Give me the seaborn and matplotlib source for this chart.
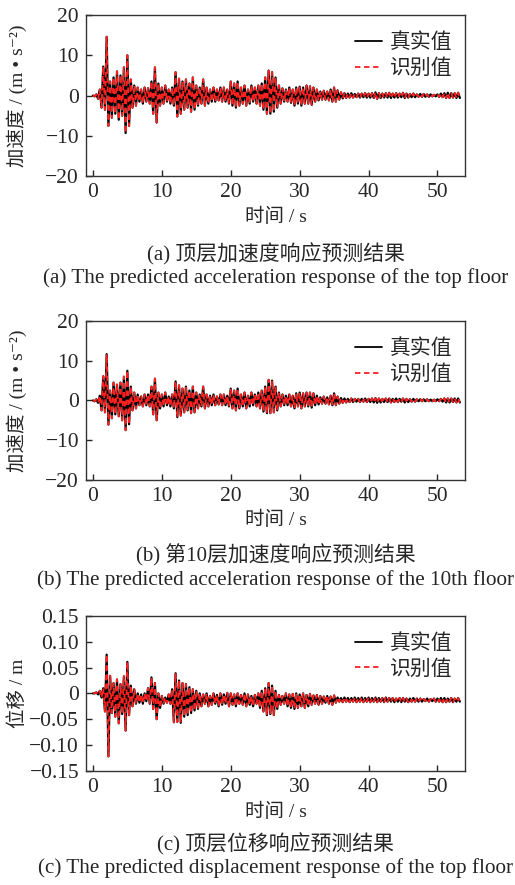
import numpy as np
import pandas as pd
import matplotlib
matplotlib.use("Agg")
import matplotlib.pyplot as plt
import seaborn as sns

# ================= DATA =================
# extrema of each record, one peak and one trough per 0.5 s cycle
cycle = 0.5

acc_top_peak = [
    0.0, 0.3, 1.5, 7.2, 14.6, 3.5, 4.5, 6.0, 5.0, 7.0,
    10.0, 4.0, 2.5, 2.0, 1.5, 2.0, 1.8, 3.5, 7.0, 3.0,
    2.0, 2.5, 1.5, 2.0, 5.8, 4.2, 3.5, 4.0, 3.0, 4.5,
    2.5, 2.0, 4.0, 2.0, 1.5, 2.0, 1.5, 2.0, 2.0, 1.5,
    3.5, 3.0, 3.5, 2.0, 2.5, 1.5, 2.5, 2.0, 2.5, 3.0,
    4.5, 6.2, 5.8, 4.5, 2.5, 1.8, 1.5, 2.0, 1.5, 2.0,
    2.2, 2.0, 2.5, 2.3, 2.0, 1.5, 1.0, 1.2, 1.0, 1.5,
    2.0, 1.3, 0.8, 0.6, 0.5, 0.6, 0.4, 0.5, 0.5, 0.6,
    0.5, 0.6, 0.8, 0.6, 0.5, 0.6, 0.7, 0.5, 0.6, 0.5,
    0.7, 0.5, 0.4, 0.5, 0.3, 0.4, 0.4, 0.3, 0.3, 0.2,
    0.3, 0.5, 0.6, 0.7, 0.6, 0.6, 0.7,
]
acc_top_trough = [
    -0.2, -0.8, -3.0, -3.5, -7.5, -5.5, -4.5, -6.0, -5.0, -9.3,
    -7.5, -3.0, -2.5, -1.5, -2.0, -1.5, -2.0, -4.5, -6.7, -2.5,
    -2.0, -1.5, -2.0, -2.5, -5.2, -4.5, -3.5, -3.0, -4.0, -3.5,
    -2.5, -2.0, -2.5, -2.0, -1.5, -1.5, -1.2, -1.5, -1.5, -2.0,
    -2.5, -3.0, -2.5, -2.0, -2.5, -2.0, -1.5, -2.0, -2.5, -3.5,
    -4.5, -4.5, -4.0, -3.0, -2.0, -1.5, -1.5, -1.8, -2.5, -2.0,
    -2.5, -2.0, -2.0, -2.3, -1.5, -1.2, -1.0, -1.0, -1.2, -1.5,
    -1.5, -1.0, -0.7, -0.6, -0.5, -0.5, -0.4, -0.5, -0.4, -0.5,
    -0.5, -0.6, -0.8, -0.6, -0.5, -0.5, -0.6, -0.5, -0.5, -0.4,
    -0.6, -0.5, -0.4, -0.4, -0.3, -0.3, -0.3, -0.3, -0.2, -0.2,
    -0.3, -0.4, -0.6, -0.6, -0.5, -0.6, -0.6,
]

acc_10_peak = [
    0.0, 0.3, 1.2, 6.1, 11.7, 2.5, 4.5, 4.0, 4.5, 6.0,
    7.5, 3.5, 2.0, 1.5, 1.0, 1.5, 1.5, 3.5, 5.5, 2.0,
    1.5, 2.0, 1.0, 1.5, 4.8, 3.8, 3.0, 3.5, 2.5, 3.5,
    2.0, 1.5, 3.5, 1.5, 1.2, 1.5, 1.0, 1.5, 1.5, 1.2,
    3.0, 2.5, 3.0, 1.5, 2.0, 1.2, 2.0, 1.5, 2.0, 2.5,
    3.5, 5.2, 5.0, 3.5, 2.0, 1.5, 1.2, 1.5, 1.2, 1.8,
    2.0, 1.8, 2.0, 2.0, 1.8, 1.2, 0.8, 1.0, 0.8, 1.2,
    1.8, 1.0, 0.6, 0.5, 0.4, 0.5, 0.4, 0.4, 0.4, 0.5,
    0.4, 0.5, 0.6, 0.5, 0.4, 0.5, 0.5, 0.4, 0.5, 0.4,
    0.5, 0.4, 0.3, 0.4, 0.3, 0.3, 0.3, 0.3, 0.2, 0.2,
    0.3, 0.4, 0.5, 0.5, 0.5, 0.5, 0.5,
]
acc_10_trough = [
    -0.2, -0.6, -2.5, -3.0, -6.1, -4.5, -3.5, -4.0, -5.0, -7.5,
    -6.0, -2.5, -2.0, -1.2, -1.5, -1.2, -1.5, -3.5, -5.0, -2.0,
    -1.5, -1.2, -1.5, -2.0, -4.2, -3.8, -3.0, -2.5, -3.2, -3.0,
    -2.0, -1.5, -2.0, -1.5, -1.2, -1.2, -1.0, -1.2, -1.2, -1.5,
    -2.0, -2.5, -2.0, -1.5, -2.0, -1.5, -1.2, -1.5, -2.0, -2.8,
    -3.2, -3.2, -3.0, -2.5, -1.5, -1.2, -1.2, -1.5, -2.0, -1.5,
    -2.0, -1.5, -1.5, -1.8, -1.2, -1.0, -0.8, -0.8, -1.0, -1.2,
    -1.2, -0.8, -0.6, -0.5, -0.4, -0.4, -0.3, -0.4, -0.3, -0.4,
    -0.4, -0.5, -0.6, -0.5, -0.4, -0.4, -0.5, -0.4, -0.4, -0.3,
    -0.5, -0.4, -0.3, -0.3, -0.2, -0.2, -0.2, -0.2, -0.2, -0.2,
    -0.2, -0.3, -0.5, -0.5, -0.4, -0.5, -0.5,
]

disp_top_peak = [
    0.000, 0.002, 0.005, 0.010, 0.075, 0.034, 0.020, 0.027, 0.018, 0.033,
    0.061, 0.015, 0.008, 0.000, -0.002, 0.000, 0.010, 0.031, 0.020, 0.000,
    -0.005, -0.008, -0.002, 0.008, 0.039, 0.025, 0.020, 0.018, 0.012, 0.008,
    0.005, 0.000, -0.002, 0.000, -0.005, 0.000, -0.003, 0.000, -0.002, 0.001,
    0.000, -0.002, 0.000, -0.003, 0.000, -0.002, -0.005, -0.003, 0.000, 0.005,
    0.010, 0.020, 0.015, 0.005, -0.003, -0.005, 0.000, -0.002, -0.001, 0.000,
    -0.002, 0.000, -0.003, -0.001, -0.004, -0.003, -0.005, -0.006, -0.005, -0.006,
    -0.004, -0.008, -0.009, -0.008, -0.009, -0.009, -0.008, -0.009, -0.008, -0.009,
    -0.008, -0.009, -0.008, -0.009, -0.009, -0.008, -0.009, -0.009, -0.010, -0.009,
    -0.009, -0.010, -0.010, -0.009, -0.010, -0.010, -0.011, -0.010, -0.011, -0.010,
    -0.010, -0.009, -0.009, -0.010, -0.009, -0.010, -0.009,
]
disp_top_trough = [
    0.000, -0.002, -0.008, -0.035, -0.122, -0.038, -0.045, -0.058, -0.040, -0.072,
    -0.042, -0.025, -0.020, -0.018, -0.020, -0.015, -0.020, -0.030, -0.050, -0.028,
    -0.020, -0.018, -0.020, -0.056, -0.055, -0.057, -0.045, -0.042, -0.038, -0.033,
    -0.030, -0.025, -0.020, -0.025, -0.022, -0.020, -0.025, -0.022, -0.020, -0.025,
    -0.022, -0.025, -0.020, -0.022, -0.025, -0.022, -0.025, -0.020, -0.028, -0.035,
    -0.042, -0.040, -0.042, -0.030, -0.022, -0.020, -0.025, -0.028, -0.030, -0.028,
    -0.025, -0.028, -0.025, -0.022, -0.020, -0.022, -0.020, -0.018, -0.020, -0.022,
    -0.018, -0.016, -0.017, -0.016, -0.017, -0.016, -0.017, -0.016, -0.017, -0.016,
    -0.017, -0.016, -0.017, -0.016, -0.017, -0.016, -0.016, -0.017, -0.016, -0.017,
    -0.016, -0.017, -0.016, -0.016, -0.016, -0.016, -0.015, -0.016, -0.015, -0.016,
    -0.016, -0.017, -0.017, -0.016, -0.017, -0.016, -0.016,
]

ylabels = ["加速度 / (m • s⁻²)", "加速度 / (m • s⁻²)", "位移 / m"]
yticks = [[-20, -10, 0, 10, 20], [-20, -10, 0, 10, 20],
          [-0.15, -0.10, -0.05, 0, 0.05, 0.10, 0.15]]
ytick_labels = [["−20", "−10", "0", "10", "20"], ["−20", "−10", "0", "10", "20"],
                ["−0.15", "−0.10", "−0.05", "0", "0.05", "0.10", "0.15"]]
xticks = [0, 10, 20, 30, 40, 50]
captions_zh = ["(a) 顶层加速度响应预测结果", "(b) 第10层加速度响应预测结果", "(c) 顶层位移响应预测结果"]
captions_en = ["(a) The predicted acceleration response of the top floor",
               "(b) The predicted acceleration response of the 10th floor",
               "(c) The predicted displacement response of the top floor"]


def build_record(peaks, troughs):
    t_peak = np.arange(len(peaks)) * cycle
    t_trough = t_peak + cycle / 2
    t = np.empty(2 * len(peaks))
    v = np.empty(2 * len(peaks))
    t[0::2], t[1::2] = t_peak, t_trough
    v[0::2], v[1::2] = peaks, troughs
    return pd.DataFrame({"t": t, "v": v})


records = [build_record(acc_top_peak, acc_top_trough),
           build_record(acc_10_peak, acc_10_trough),
           build_record(disp_top_peak, disp_top_trough)]

# ================= STYLE =================
sns.set_style("ticks")
plt.rcParams["font.family"] = ["Liberation Serif", "Noto Sans CJK SC", "DejaVu Sans"]
plt.rcParams["axes.unicode_minus"] = False

fig = plt.figure(figsize=(5.15, 8.85), dpi=100)
boxes = [(0.167, 0.801, 0.736, 0.182),
         (0.167, 0.458, 0.736, 0.179),
         (0.167, 0.129, 0.736, 0.175)]
caption_pts = [(-56, -73.5), (-54.5, -72), (-53, -70)]

for i, df in enumerate(records):
    ax = fig.add_axes(boxes[i])
    sns.lineplot(data=df, x="t", y="v", color="black", lw=1.6, label="真实值", ax=ax)
    # identified values lie on top of the true ones
    sns.lineplot(data=df, x="t", y="v", color="#ff2020", lw=1.3, linestyle=(0, (3, 2)),
                 label="识别值", ax=ax)

    ax.set_xlim(-1, 54)
    ax.set_ylim(yticks[i][0], yticks[i][-1])
    ax.set_xticks(xticks)
    ax.set_yticks(yticks[i])
    ax.set_yticklabels(ytick_labels[i])
    ax.tick_params(direction="in", length=4, width=1, labelsize=15.5, pad=5,
                   top=False, right=False)
    for s in ax.spines.values():
        s.set_visible(True)
        s.set_linewidth(1.0)
        s.set_color("#333333")

    ax.set_xlabel("时间 / s", fontsize=14, labelpad=4)
    ax.set_ylabel(ylabels[i], fontsize=14)
    ax.yaxis.set_label_coords(-0.155, 0.5)

    leg = ax.legend(loc="upper right", bbox_to_anchor=(0.995, 0.95), frameon=False,
                    fontsize=15, handlelength=1.3, handletextpad=0.4,
                    labelspacing=0.3, borderaxespad=0.1)
    for h in leg.get_lines():
        h.set_linewidth(1.3)

    zh_off, en_off = caption_pts[i]
    ax.annotate(captions_zh[i], xy=(0.5, 0), xycoords="axes fraction",
                xytext=(0, zh_off), textcoords="offset points",
                ha="center", va="center", fontsize=15)
    ax.annotate(captions_en[i], xy=(0.5, 0), xycoords="axes fraction",
                xytext=(0, en_off), textcoords="offset points",
                ha="center", va="center", fontsize=15.2)

fig.savefig("out.png", dpi=100)
